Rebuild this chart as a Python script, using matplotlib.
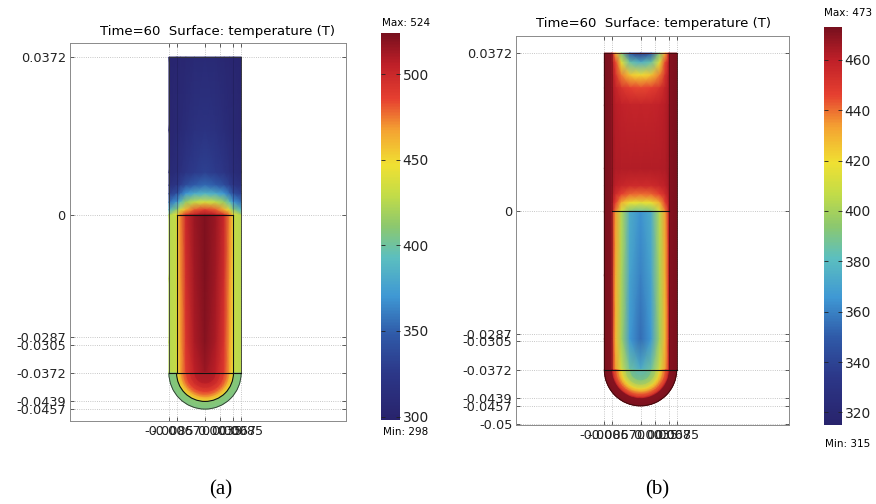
import numpy as np
import matplotlib

matplotlib.use("Agg")
import matplotlib.pyplot as plt
from matplotlib.colors import LinearSegmentedColormap, Normalize
from matplotlib.cm import ScalarMappable
from matplotlib.patches import Arc

# geometry of the tube (m)
R_IN = 0.0067
R_OUT = 0.0085
Y_TOP = 0.0372
Y_BOT = -0.0372

# radial sample positions, centre -> outer wall
R_NODES = [0.0, 0.0025, 0.0045, 0.0058, 0.0066, 0.0068, 0.0085]

# panel (a): straight section, one row per height, temperature (K) along R_NODES
Y_ROWS_A = [0.0372, 0.020, 0.010, 0.007, 0.005, 0.003, 0.0012, 0.0001,
            -0.0001, -0.015, -0.030, -0.0372]
T_ROWS_A = [
    [308, 307, 305, 304, 303, 303, 301],
    [320, 317, 312, 308, 306, 306, 303],
    [332, 328, 322, 316, 312, 312, 307],
    [354, 349, 340, 330, 322, 322, 316],
    [388, 382, 370, 354, 340, 340, 330],
    [438, 430, 415, 394, 370, 370, 354],
    [488, 480, 462, 438, 410, 410, 386],
    [512, 505, 492, 472, 444, 444, 414],
    [522, 515, 500, 472, 452, 430, 426],
    [522, 513, 496, 470, 450, 430, 426],
    [520, 510, 492, 467, 449, 430, 426],
    [515, 505, 488, 465, 447, 430, 426],
]
# panel (a): round bottom, radial profile
T_CAP_A = [515, 503, 485, 462, 446, 410, 406]

# panel (b)
Y_ROWS_B = [0.0372, 0.035, 0.032, 0.029, 0.025, 0.010, 0.006, 0.004, 0.002, 0.0001,
            -0.0001, -0.015, -0.030, -0.0372]
T_ROWS_B = [
    [332, 348, 392, 430, 455, 470, 472],
    [375, 385, 415, 445, 460, 470, 472],
    [420, 425, 438, 452, 462, 470, 472],
    [445, 447, 452, 458, 463, 470, 472],
    [458, 458, 459, 461, 464, 470, 472],
    [462, 462, 462, 463, 465, 470, 472],
    [455, 455, 457, 460, 464, 470, 472],
    [440, 441, 447, 455, 462, 470, 472],
    [415, 418, 430, 447, 460, 470, 472],
    [388, 392, 412, 438, 458, 470, 472],
    [364, 374, 404, 434, 453, 470, 472],
    [360, 370, 402, 431, 452, 470, 472],
    [354, 366, 399, 429, 450, 470, 472],
    [374, 386, 411, 434, 452, 470, 472],
]
T_CAP_B = [374, 392, 421, 443, 456, 470, 472]

RANGE_A = (298, 524)
RANGE_B = (315, 473)
CBAR_TICKS_A = [300, 350, 400, 450, 500]
CBAR_TICKS_B = [320, 340, 360, 380, 400, 420, 440, 460]

X_TICKS = [-0.0085, -0.0067, 0, 0.0035, 0.0067, 0.0085]
X_LABELS = ["-0.0085", "-0.0067", "0", "0.0035", "0.0067", "0.0085"]
Y_TICKS_A = [0.0372, 0, -0.0287, -0.0305, -0.0372, -0.0439, -0.0457]
Y_LABELS_A = ["0.0372", "0", "-0.0287", "-0.0305", "-0.0372", "-0.0439", "-0.0457"]
Y_TICKS_B = Y_TICKS_A + [-0.05]
Y_LABELS_B = Y_LABELS_A + ["-0.05"]

TITLE = "Time=60  Surface: temperature (T)"

CMAP = LinearSegmentedColormap.from_list("comsol_rainbow", [
    (0.00, "#28236c"), (0.12, "#2c3788"), (0.22, "#2f5aa8"), (0.32, "#3f98d4"),
    (0.42, "#5cbfbf"), (0.50, "#8cc86e"), (0.58, "#c2dc48"), (0.66, "#f0e032"),
    (0.75, "#f4a232"), (0.83, "#e64030"), (0.92, "#be1f28"), (1.00, "#78101e"),
])


def mirror(row):
    row = list(row)
    return row[::-1] + row[1:]


def draw_tube(ax, y_rows, t_rows, t_cap, norm):
    r = np.array(R_NODES)
    xs = np.concatenate([-r[::-1], r[1:]])
    ts = np.array([mirror(row) for row in t_rows], dtype=float)
    X, Y = np.meshgrid(xs, np.array(y_rows))
    ax.pcolormesh(X, Y, ts, shading="gouraud", cmap=CMAP, norm=norm,
                  zorder=2, rasterized=True)
    # round bottom: same radial profile at every angle
    th = np.linspace(np.pi, 2 * np.pi, 73)
    RR, TH = np.meshgrid(r, th)
    HX = RR * np.cos(TH)
    HY = Y_BOT + RR * np.sin(TH)
    HT = np.tile(np.array(t_cap, dtype=float), (len(th), 1))
    ax.pcolormesh(HX, HY, HT, shading="gouraud", cmap=CMAP, norm=norm,
                  zorder=2, rasterized=True)


def outline(ax, color="#333333"):
    kw = dict(color=color, lw=0.6, zorder=4)
    ax.plot([-R_OUT, -R_OUT], [Y_TOP, Y_BOT], **kw)
    ax.plot([R_OUT, R_OUT], [Y_TOP, Y_BOT], **kw)
    ax.plot([-R_OUT, R_OUT], [Y_TOP, Y_TOP], **kw)
    ax.add_patch(Arc((0, Y_BOT), 2 * R_OUT, 2 * R_OUT, theta1=180, theta2=360,
                     color=color, lw=0.6, zorder=4))


def style_axes(ax, xlim, ylim, yticks, ylabels):
    ax.set_xlim(xlim)
    ax.set_ylim(ylim)
    ax.set_aspect("equal", adjustable="box")
    ax.set_xticks(X_TICKS)
    ax.set_xticklabels(X_LABELS)
    ax.set_yticks(yticks)
    ax.set_yticklabels(ylabels)
    ax.tick_params(direction="in", top=True, right=True, length=3, width=0.5,
                   labelsize=9.3, colors="#222222", pad=3)
    ax.grid(True, linestyle=":", color="#b5b5b5", linewidth=0.6, zorder=0)
    ax.set_axisbelow(True)
    for s in ax.spines.values():
        s.set_color("#8a8a8a")
        s.set_linewidth(0.7)


def colorbar(fig, rect, norm, ticks):
    cax = fig.add_axes(rect)
    cb = fig.colorbar(ScalarMappable(norm=norm, cmap=CMAP), cax=cax)
    cb.set_ticks(ticks)
    cb.outline.set_visible(False)
    cax.tick_params(direction="in", left=True, right=True, length=3, width=0.6,
                    labelsize=10, colors="#222222", pad=2)
    return cax


def main():
    fig = plt.figure(figsize=(8.76, 5.04), dpi=100)
    fig.patch.set_facecolor("white")

    # ---- panel (a)
    norm_a = Normalize(*RANGE_A)
    ax_a = fig.add_axes([0.0799, 0.1647, 0.3151, 0.75])
    draw_tube(ax_a, Y_ROWS_A, T_ROWS_A, T_CAP_A, norm_a)
    outline(ax_a)
    k = dict(color="#111111", lw=0.8, zorder=5)
    ax_a.plot([-R_IN, R_IN], [0, 0], **k)
    ax_a.plot([-R_OUT, R_OUT], [Y_BOT, Y_BOT], **k)
    ax_a.plot([-R_IN, -R_IN], [0, Y_BOT], **k)
    ax_a.plot([R_IN, R_IN], [0, Y_BOT], **k)
    ax_a.add_patch(Arc((0, Y_BOT), 2 * R_IN, 2 * R_IN, theta1=180, theta2=360, **k))
    ax_a.plot([-R_IN, -R_IN], [Y_TOP, 0], color="#1a1a4a", lw=0.5, alpha=0.5, zorder=4)
    ax_a.plot([R_IN, R_IN], [Y_TOP, 0], color="#1a1a4a", lw=0.5, alpha=0.5, zorder=4)
    style_axes(ax_a, (-0.0318, 0.0332), (-0.0485, 0.0405), Y_TICKS_A, Y_LABELS_A)
    colorbar(fig, [0.4349, 0.1667, 0.0217, 0.7679], norm_a, CBAR_TICKS_A)
    fig.text(218 / 876, 1 - 32 / 504, TITLE, ha="center", va="center", fontsize=9.5)
    fig.text(406 / 876, 1 - 23 / 504, "Max: 524", ha="center", va="center", fontsize=7.5)
    fig.text(406 / 876, 1 - 432 / 504, "Min: 298", ha="center", va="center", fontsize=7.5)
    fig.text(221 / 876, 1 - 490 / 504, "(a)", ha="center", va="center", fontsize=15,
             family="Liberation Serif")

    # ---- panel (b)
    norm_b = Normalize(*RANGE_B)
    ax_b = fig.add_axes([0.589, 0.1567, 0.3128, 0.7718])
    draw_tube(ax_b, Y_ROWS_B, T_ROWS_B, T_CAP_B, norm_b)
    outline(ax_b, "#3a0a0a")
    ax_b.plot([-R_IN, R_IN], [0, 0], **k)
    ax_b.plot([-R_OUT, R_OUT], [Y_BOT, Y_BOT], **k)
    ax_b.plot([-R_IN, -R_IN], [Y_TOP, Y_BOT], color="#4a0a0a", lw=0.5, alpha=0.6, zorder=4)
    ax_b.plot([R_IN, R_IN], [Y_TOP, Y_BOT], color="#4a0a0a", lw=0.5, alpha=0.6, zorder=4)
    style_axes(ax_b, (-0.02914, 0.035), (-0.0502, 0.0412), Y_TICKS_B, Y_LABELS_B)
    colorbar(fig, [0.9406, 0.1567, 0.0205, 0.7897], norm_b, CBAR_TICKS_B)
    fig.text(654 / 876, 1 - 23 / 504, TITLE, ha="center", va="center", fontsize=9.5)
    fig.text(848 / 876, 1 - 13 / 504, "Max: 473", ha="center", va="center", fontsize=7.5)
    fig.text(848 / 876, 1 - 444 / 504, "Min: 315", ha="center", va="center", fontsize=7.5)
    fig.text(657 / 876, 1 - 490 / 504, "(b)", ha="center", va="center", fontsize=15,
             family="Liberation Serif")

    fig.savefig("out.png", dpi=100, facecolor="white")
    plt.close(fig)


if __name__ == "__main__":
    main()
